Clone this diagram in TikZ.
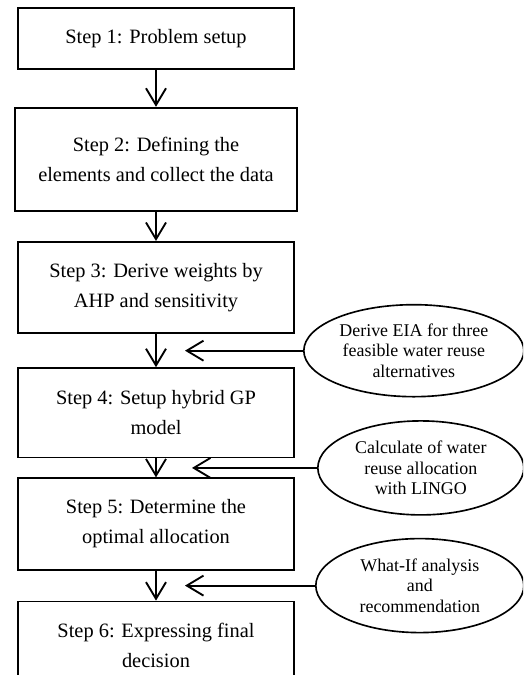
\documentclass[tikz,border=0pt]{standalone}
\usepackage{fontspec}
\setmainfont{Liberation Serif}
\usetikzlibrary{shapes.geometric, arrows.meta, positioning, calc}

\begin{document}
\begin{tikzpicture}[
    stepbox/.style={draw, rectangle, line width=1.6pt, minimum width=8.3cm, inner sep=2pt, align=center, font=\fontsize{17.4}{25.6}\selectfont},
    notebox/.style={draw, ellipse, line width=1.4pt, inner sep=0pt, align=center, font=\fontsize{15.3}{17.5}\selectfont},
    flow_dw/.style={-{Straight Barb[length=5mm, width=6mm]}, line width=1.6pt},
    flow_in/.style={-{Straight Barb[length=5mm, width=6mm]}, line width=1.6pt}
]
    \useasboundingbox (0, 0) rectangle (15.69, -20.25);
    \clip (0, 0) rectangle (15.69, -20.25);

    \node[stepbox, minimum height=1.82cm] (step1) at (4.68, -1.155) {Step 1: Problem setup};
    \node[stepbox, minimum height=3.1cm, minimum width=8.46cm] (step2) [below=1.11cm of step1]
      {Step 2: Defining the\\elements and collect the data};
    \node[stepbox, minimum height=2.74cm] (step3) [below=0.87cm of step2]
      {Step 3: Derive weights by\\AHP and sensitivity};
    \node[stepbox, minimum height=2.68cm] (step4) [below=0.99cm of step3]
      {Step 4: Setup hybrid GP\\model};
    \node[stepbox, minimum height=2.74cm] (step5) [below=0.57cm of step4]
      {Step 5: Determine the\\optimal allocation};
    \node[stepbox, minimum height=2.62cm] (step6) [below=0.9cm of step5]
      {Step 6: Expressing final\\decision};

    \draw[flow_dw] (step1) -- (step2);
    \draw[flow_dw] (step2) -- (step3);
    \draw[flow_dw] (step3) -- (step4);
    \draw[flow_dw] (step4) -- (step5);
    \draw[flow_dw] (step5) -- (step6);

    \coordinate (in4) at ($($(step3.south)!0.5!(step4.north)$) + (0.87cm, 0)$);
    \node[notebox, minimum width=6.6cm, minimum height=2.76cm] (eia) [right=3.54cm of in4]
      {Derive EIA for three\\feasible water reuse\\alternatives};
    \draw[flow_in] (eia) -- (in4);

    \coordinate (in5) at ($($(step4.south)!0.5!(step5.north)$) + (1.08cm, 0)$);
    \node[notebox, minimum width=6.18cm, minimum height=2.82cm] (lingo) [right=3.75cm of in5]
      {Calculate of water\\reuse allocation\\with LINGO};
    \draw[flow_in] (lingo) -- (in5);

    \coordinate (in6) at ($($(step5.south)!0.5!(step6.north)$) + (0.87cm, 0)$);
    \node[notebox, minimum width=6.24cm, minimum height=2.82cm] (whatif) [right=3.9cm of in6]
      {What-If analysis\\and\\recommendation};
    \draw[flow_in] (whatif) -- (in6);
\end{tikzpicture}
\end{document}
